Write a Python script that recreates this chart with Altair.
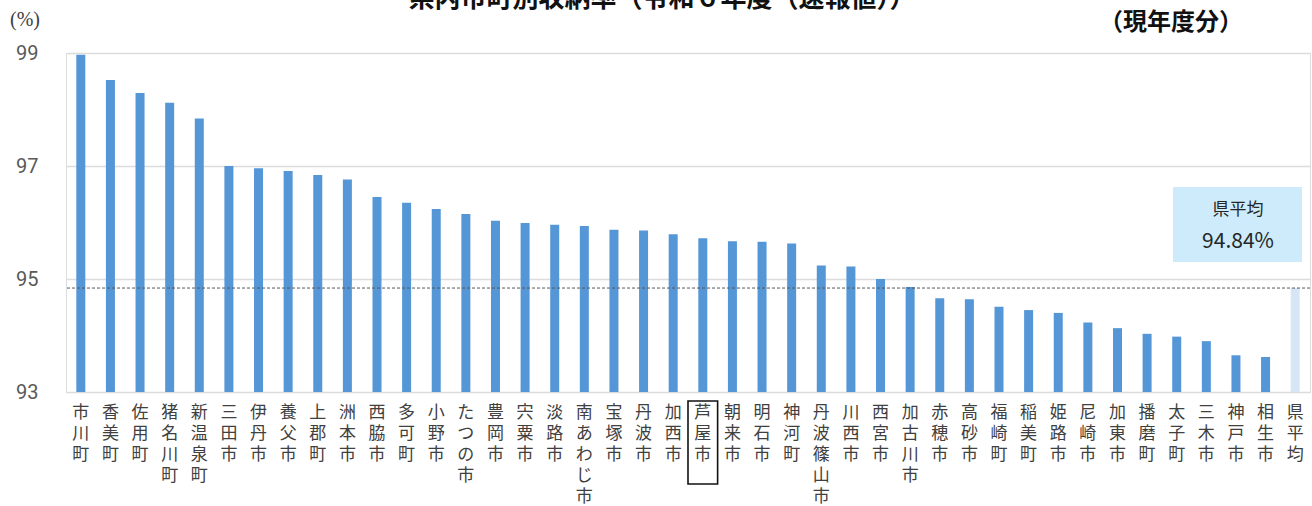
import altair as alt
import pandas as pd

# 市町別の収納率（%）
names = [
    "市川町", "香美町", "佐用町", "猪名川町", "新温泉町", "三田市", "伊丹市", "養父市",
    "上郡町", "洲本市", "西脇市", "多可町", "小野市", "たつの市", "豊岡市", "宍粟市",
    "淡路市", "南あわじ市", "宝塚市", "丹波市", "加西市", "芦屋市", "朝来市", "明石市",
    "神河町", "丹波篠山市", "川西市", "西宮市", "加古川市", "赤穂市", "高砂市", "福崎町",
    "稲美町", "姫路市", "尼崎市", "加東市", "播磨町", "太子町", "三木市", "神戸市",
    "相生市",
]
rates = [
    98.97, 98.52, 98.29, 98.12, 97.84, 97.00, 96.96, 96.91,
    96.84, 96.76, 96.45, 96.35, 96.24, 96.15, 96.03, 95.99,
    95.96, 95.94, 95.87, 95.86, 95.79, 95.72, 95.67, 95.66,
    95.63, 95.24, 95.22, 95.00, 94.86, 94.66, 94.64, 94.51,
    94.45, 94.40, 94.23, 94.13, 94.03, 93.98, 93.90, 93.65,
    93.62,
]
avg_label = "県平均"
avg_rate = 94.84
highlight = "芦屋市"

y_ticks = [93, 95, 97, 99]
title_text = "県内市町別収納率（令和６年度（速報値））"
subtitle_text = "（現年度分）"
unit_text = "(%)"

BAR = "#5596d6"
AVG_BAR = "#d7e6f4"
FONT_JP = "Noto Sans CJK JP"

order = names + [avg_label]
df = pd.DataFrame({
    "name": order,
    "rate": rates + [avg_rate],
    "kind": ["市町"] * len(names) + ["平均"],
})

x_enc = alt.X(
    "name:N",
    sort=order,
    scale=alt.Scale(paddingInner=0, paddingOuter=0),
    axis=alt.Axis(
        title=None, labelAngle=0, labelAlign="center", labelBaseline="top",
        labelExpr="split(datum.label, '')", labelLineHeight=21,
        labelFont=FONT_JP, labelFontSize=17, labelColor="#404040",
        labelPadding=12, labelOverlap=False, domain=False, ticks=False,
    ),
)
y_scale = alt.Scale(domain=[93, 99], zero=False, nice=False)

base = alt.Chart(df)

bars = base.mark_bar(size=9).encode(
    x=x_enc,
    y=alt.Y(
        "rate:Q", scale=y_scale,
        axis=alt.Axis(
            title=None, values=y_ticks, format="d", grid=True,
            gridColor="#dcdcdc", gridWidth=1.6, domain=False, ticks=False,
            labelFont="Roboto", labelFontSize=20, labelColor="#595959",
            labelPadding=28,
        ),
    ),
    y2=alt.datum(93),
    color=alt.Color(
        "kind:N",
        scale=alt.Scale(domain=["市町", "平均"], range=[BAR, AVG_BAR]),
        legend=None,
    ),
)

avg_df = pd.DataFrame({"label": [avg_label], "rate": [avg_rate]})
avg_rule = alt.Chart(avg_df).mark_rule(
    color="#595959", strokeDash=[3, 2], strokeWidth=1
).encode(y=alt.Y("rate:Q", scale=y_scale))

# 県平均の注記ボックス
note_box = alt.Chart(avg_df).mark_rect(color="#cdebfa").encode(
    x=alt.value(1107), x2=alt.value(1236), y=alt.value(134), y2=alt.value(209)
)
note_label = alt.Chart(avg_df).mark_text(
    font=FONT_JP, fontSize=17, color="#262626", baseline="middle"
).encode(x=alt.value(1172), y=alt.value(157), text="label:N")
note_pct = alt.Chart(avg_df).transform_calculate(
    txt="format(datum.rate, '.2f') + '%'"
).mark_text(
    font=FONT_JP, fontSize=21, color="#262626", baseline="middle"
).encode(x=alt.value(1172), y=alt.value(189), text="txt:N")

# 注目する市の枠
box = base.transform_filter(
    alt.datum.name == highlight
).mark_rect(filled=False, stroke="#111111", strokeWidth=1.6).encode(
    x=alt.X("name:N", sort=order), y=alt.value(348), y2=alt.value(431)
)

text_df = pd.DataFrame({"t": [title_text], "s": [subtitle_text], "u": [unit_text]})
title = alt.Chart(text_df).mark_text(
    font=FONT_JP, fontSize=26, fontWeight="bold", color="#111111",
    baseline="alphabetic",
).encode(x=alt.value(596), y=alt.value(-46), text="t:N")
subtitle = alt.Chart(text_df).mark_text(
    font=FONT_JP, fontSize=24, fontWeight="bold", color="#111111",
    baseline="middle",
).encode(x=alt.value(1105), y=alt.value(-30), text="s:N")
unit = alt.Chart(text_df).mark_text(
    font="Liberation Serif", fontSize=20, color="#404040", baseline="middle",
).encode(x=alt.value(-41), y=alt.value(-33), text="u:N")

chart = alt.layer(
    bars, avg_rule, note_box, note_label, note_pct, box, title, subtitle, unit
).properties(
    width=1244, height=339,
    autosize=alt.AutoSizeParams(type="none"),
    padding={"left": 66, "top": 53, "right": 2, "bottom": 114},
).configure_view(stroke=None).configure(background="white")

chart.save("out.html", embed_options={"renderer": "svg", "actions": False})
